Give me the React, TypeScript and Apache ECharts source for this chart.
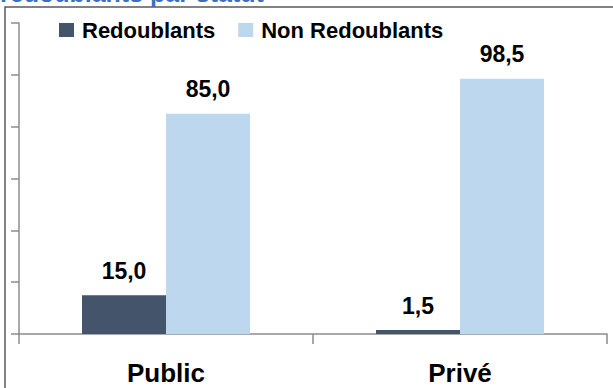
import React, { useEffect, useRef } from "react";
import * as echarts from "echarts";

const categories = ["Public", "Privé"];
const redoublants = [15.0, 1.5];
const nonRedoublants = [85.0, 98.5];
const seriesNames = ["Redoublants", "Non Redoublants"];
const titleText = "redoublants par statut";

const FONT = "'Liberation Sans', Arial, sans-serif";

export default function App() {
  const ref = useRef<HTMLDivElement>(null);
  useEffect(() => {
    if (!ref.current) return;
    const chart = echarts.init(ref.current, undefined, { renderer: "svg" });
    const fmt = (p: any) => Number(p.value).toFixed(1).replace(".", ",");
    const labelStyle = {
      show: true,
      position: "top" as const,
      distance: 13,
      formatter: fmt,
      fontFamily: FONT,
      fontWeight: "bold" as const,
      fontSize: 23,
      color: "#000",
    };
    chart.setOption({
      animation: false,
      backgroundColor: "#fff",
      graphic: [
        {
          type: "rect",
          shape: { x: 5, y: 7, width: 800, height: 600 },
          style: { fill: "none", stroke: "#5a5a5a", lineWidth: 1.5 },
          z: 0,
        },
        {
          type: "text",
          left: 0,
          top: -20,
          style: {
            text: titleText,
            fill: "#3c6fc4",
            font: "bold 25px 'Liberation Sans', Arial, sans-serif",
          },
        },
      ],
      legend: {
        left: 59,
        top: 19,
        padding: 0,
        itemWidth: 15,
        itemHeight: 14,
        itemGap: 23,
        icon: "rect",
        textStyle: {
          fontFamily: FONT,
          fontWeight: "bold",
          fontSize: 22,
          color: "#000",
          padding: [0, 0, 0, 3],
        },
        data: seriesNames,
      },
      grid: { left: 19, right: 6, top: 23, bottom: 54, containLabel: false },
      xAxis: {
        type: "category",
        data: categories,
        axisLine: { lineStyle: { color: "#8c8c8c", width: 1.5 } },
        axisTick: { show: true, length: 10, lineStyle: { color: "#8c8c8c", width: 1.5 } },
        axisLabel: {
          margin: 26,
          fontFamily: FONT,
          fontWeight: "bold",
          fontSize: 26,
          color: "#000",
        },
      },
      yAxis: {
        type: "value",
        min: 0,
        max: 120,
        interval: 20,
        axisLine: { show: true, lineStyle: { color: "#8c8c8c", width: 1.5 } },
        axisTick: { show: true, length: 8, lineStyle: { color: "#8c8c8c", width: 1.5 } },
        axisLabel: { show: false },
        splitLine: { show: false },
      },
      series: [
        {
          name: seriesNames[0],
          type: "bar",
          data: redoublants,
          barWidth: 84,
          barGap: "0%",
          itemStyle: { color: "#44546a" },
          label: labelStyle,
        },
        {
          name: seriesNames[1],
          type: "bar",
          data: nonRedoublants,
          barWidth: 84,
          itemStyle: { color: "#bdd7ee" },
          label: labelStyle,
        },
      ],
    });
    return () => chart.dispose();
  }, []);
  return (
    <div
      ref={ref}
      style={{ position: "fixed", left: 0, top: 0, width: 613, height: 388 }}
    />
  );
}
